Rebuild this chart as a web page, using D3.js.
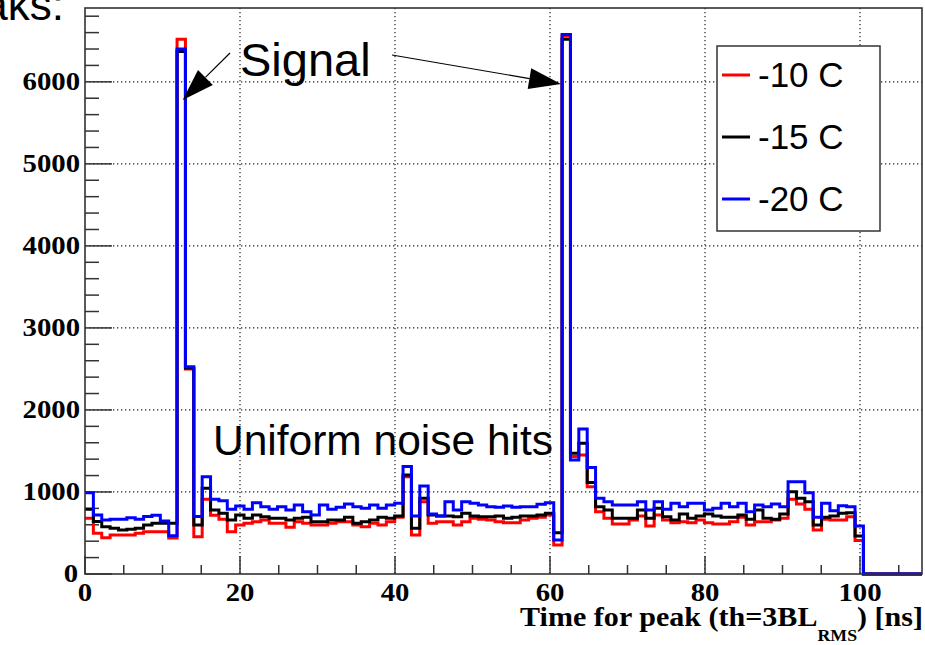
<!DOCTYPE html>
<html>
<head>
<meta charset="utf-8">
<script src="https://cdn.jsdelivr.net/npm/d3@7"></script>
<style>
	body { margin: 0; background: #fff; }
	svg { display: block; }
</style>
</head>
<body>
<div id="chart"></div>
<script>
// histogram: 100 bins over 0..108 ns (bins 93..99 are empty)
const binCount = 100;
const xMax = 108;
const seriesNames = ['-10 C', '-15 C', '-20 C'];
const seriesColors = ['#ff0000', '#000000', '#0000ff'];

const minus10 = [
	679, 496, 443, 476, 476, 476, 496, 516, 516, 516,
	440, 6520, 2498, 455, 910, 715, 666, 516, 598, 618,
	638, 659, 618, 618, 569, 638, 618, 598, 598, 618,
	638, 638, 598, 577, 618, 598, 638, 691, 1187, 476,
	882, 618, 638, 638, 598, 638, 679, 667, 659, 638,
	626, 626, 659, 679, 691, 720, 354, 6560, 1431, 1451,
	1065, 760, 679, 610, 610, 659, 707, 585, 720, 659,
	626, 638, 626, 659, 626, 610, 610, 638, 691, 598,
	638, 638, 659, 679, 910, 854, 789, 537, 667, 659,
	659, 699, 407, 0, 0, 0, 0, 0, 0, 0
];
const minus15 = [
	789, 640, 577, 557, 537, 545, 557, 598, 618, 618,
	618, 6370, 2510, 598, 1045, 780, 740, 659, 720, 679,
	720, 699, 679, 679, 659, 679, 691, 638, 638, 659,
	659, 691, 618, 638, 659, 691, 679, 707, 1207, 557,
	923, 720, 707, 707, 699, 740, 707, 699, 699, 707,
	679, 691, 707, 707, 720, 740, 504, 6520, 1472, 1593,
	1114, 821, 780, 679, 679, 679, 780, 679, 801, 699,
	659, 732, 679, 707, 732, 707, 691, 691, 720, 667,
	780, 679, 667, 732, 1004, 923, 882, 598, 691, 707,
	740, 748, 463, 0, 0, 0, 0, 0, 0, 0
];
const minus20 = [
	990, 720, 658, 666, 666, 687, 666, 700, 715, 646,
	465, 6400, 2527, 700, 1187, 910, 894, 789, 829, 789,
	870, 821, 789, 821, 780, 841, 760, 720, 841, 789,
	813, 854, 821, 801, 841, 801, 841, 862, 1309, 707,
	1073, 732, 707, 882, 780, 882, 862, 841, 821, 813,
	829, 813, 821, 821, 850, 870, 415, 6578, 1390, 1768,
	1297, 923, 882, 841, 841, 841, 882, 780, 882, 789,
	862, 821, 862, 862, 780, 801, 862, 821, 862, 760,
	841, 821, 854, 821, 1126, 1126, 992, 691, 862, 772,
	833, 821, 585, 0, 0, 0, 0, 0, 0, 0
];
const xTicks = [0, 20, 40, 60, 80, 100];
const yTicks = [0, 1000, 2000, 3000, 4000, 5000, 6000];

const W = 925, H = 645;
const frame = {left: 85, top: 8, right: 922, bottom: 574};

const svg = d3.select('#chart').append('svg').attr('width', W).attr('height', H);

const x = d3.scaleLinear().domain([0, xMax]).range([frame.left, frame.right]);
const y = d3.scaleLinear().domain([0, 6900]).range([frame.bottom, frame.top]);
const binW = xMax / binCount;

// cut-off slide text in the corner
svg.append('text')
	.attr('x', 64).attr('y', 20)
	.attr('text-anchor', 'end')
	.style('font-family', 'Liberation Sans, Arial, sans-serif')
	.style('font-size', '44px')
	.text('aks:');

// dotted grid
const grid = svg.append('g').attr('stroke', '#222').attr('stroke-width', 1.2).attr('stroke-dasharray', '1.3,2.7');
xTicks.filter(d => d > 0).forEach(d => {
	grid.append('line').attr('x1', x(d)).attr('x2', x(d)).attr('y1', frame.top).attr('y2', frame.bottom);
});
yTicks.filter(d => d > 0).forEach(d => {
	grid.append('line').attr('x1', frame.left).attr('x2', frame.right).attr('y1', y(d)).attr('y2', y(d));
});

// ticks (ROOT style, pointing inwards)
const ticks = svg.append('g').attr('stroke', '#333').attr('stroke-width', 1.5);
d3.range(0, xMax + 0.1, 5).forEach(d => {
	const len = d % 20 === 0 ? 18 : 9;
	ticks.append('line').attr('x1', x(d)).attr('x2', x(d)).attr('y1', frame.bottom).attr('y2', frame.bottom - len);
});
d3.range(0, 6900, 200).forEach(d => {
	const len = d % 1000 === 0 ? 27 : 14;
	ticks.append('line').attr('x1', frame.left).attr('x2', frame.left + len).attr('y1', y(d)).attr('y2', y(d));
});

// histograms, drawn as step outlines
function stepPoints(vals){
	let pts = [];
	vals.forEach((v, i) => {
		pts.push([i * binW, v]);
		pts.push([(i + 1) * binW, v]);
	});
	pts.push([xMax, 0]);
	return pts;
}
const line = d3.line().x(d => x(d[0])).y(d => y(d[1]));
[minus10, minus15, minus20].forEach((vals, si) => {
	svg.append('path')
		.attr('d', line(stepPoints(vals)))
		.attr('fill', 'none')
		.attr('stroke', seriesColors[si])
		.attr('stroke-width', 3)
		.attr('stroke-linejoin', 'miter');
});

// frame
svg.append('rect')
	.attr('x', frame.left).attr('y', frame.top)
	.attr('width', frame.right - frame.left).attr('height', frame.bottom - frame.top)
	.attr('fill', 'none').attr('stroke', '#333').attr('stroke-width', 1.6);

// axis labels (bold serif, a little wide)
const labelFont = 'Liberation Serif, Times New Roman, serif';
yTicks.forEach(d => {
	const g = svg.append('g').attr('transform', `translate(${d === 0 ? 78 : 80},${y(d) + 8}) scale(1.15,1)`);
	g.append('text').attr('text-anchor', 'end')
		.style('font-family', labelFont).style('font-weight', 'bold').style('font-size', '25px')
		.text(d);
});
xTicks.forEach(d => {
	const g = svg.append('g').attr('transform', `translate(${x(d)},${601}) scale(1.15,1)`);
	g.append('text').attr('text-anchor', 'middle')
		.style('font-family', labelFont).style('font-weight', 'bold').style('font-size', '25px')
		.text(d);
});

// x title, stretched to span 520..923
const titleG = svg.append('g');
const title = titleG.append('text')
	.attr('text-anchor', 'end')
	.style('font-family', labelFont).style('font-weight', 'bold').style('font-size', '27px');
title.append('tspan').text('Time for peak (th=3BL');
title.append('tspan').attr('dy', 15).style('font-size', '16px').text('RMS');
title.append('tspan').attr('dy', -15).text(') [ns]');
const tw = title.node().getBBox().width;
titleG.attr('transform', `translate(923,626) scale(${403 / tw},1)`);

// legend
const legend = svg.append('g');
legend.append('rect').attr('x', 717).attr('y', 46).attr('width', 163).attr('height', 185)
	.attr('fill', '#fff').attr('stroke', '#333').attr('stroke-width', 1.5);
const legendY = [75, 137, 199];
seriesNames.forEach((name, i) => {
	legend.append('line').attr('x1', 722).attr('x2', 750).attr('y1', legendY[i]).attr('y2', legendY[i])
		.attr('stroke', seriesColors[i]).attr('stroke-width', 3);
	legend.append('text').attr('x', 758).attr('y', legendY[i] + 12)
		.style('font-family', 'Liberation Sans, Arial, sans-serif').style('font-size', '35px')
		.text(name);
});

// annotations
const annFont = 'Liberation Sans, Arial, sans-serif';
svg.append('text').attr('x', 240).attr('y', 76)
	.style('font-family', annFont).style('font-size', '47px').text('Signal');
svg.append('text').attr('x', 213).attr('y', 455)
	.style('font-family', annFont).style('font-size', '42.5px').text('Uniform noise hits');

function arrow(x1, y1, x2, y2){
	const len = Math.hypot(x2 - x1, y2 - y1);
	const ux = (x2 - x1) / len, uy = (y2 - y1) / len;
	const headL = 32, headW = 10.5;
	const bx = x2 - ux * headL, by = y2 - uy * headL;
	svg.append('line').attr('x1', x1).attr('y1', y1).attr('x2', bx).attr('y2', by)
		.attr('stroke', '#000').attr('stroke-width', 1.2);
	svg.append('polygon')
		.attr('points', [[x2, y2], [bx - uy * headW, by + ux * headW], [bx + uy * headW, by - ux * headW]].map(p => p.join(',')).join(' '))
		.attr('fill', '#000');
}
arrow(230, 53, 182.7, 100);
arrow(392, 55, 561, 84);
</script>
</body>
</html>
